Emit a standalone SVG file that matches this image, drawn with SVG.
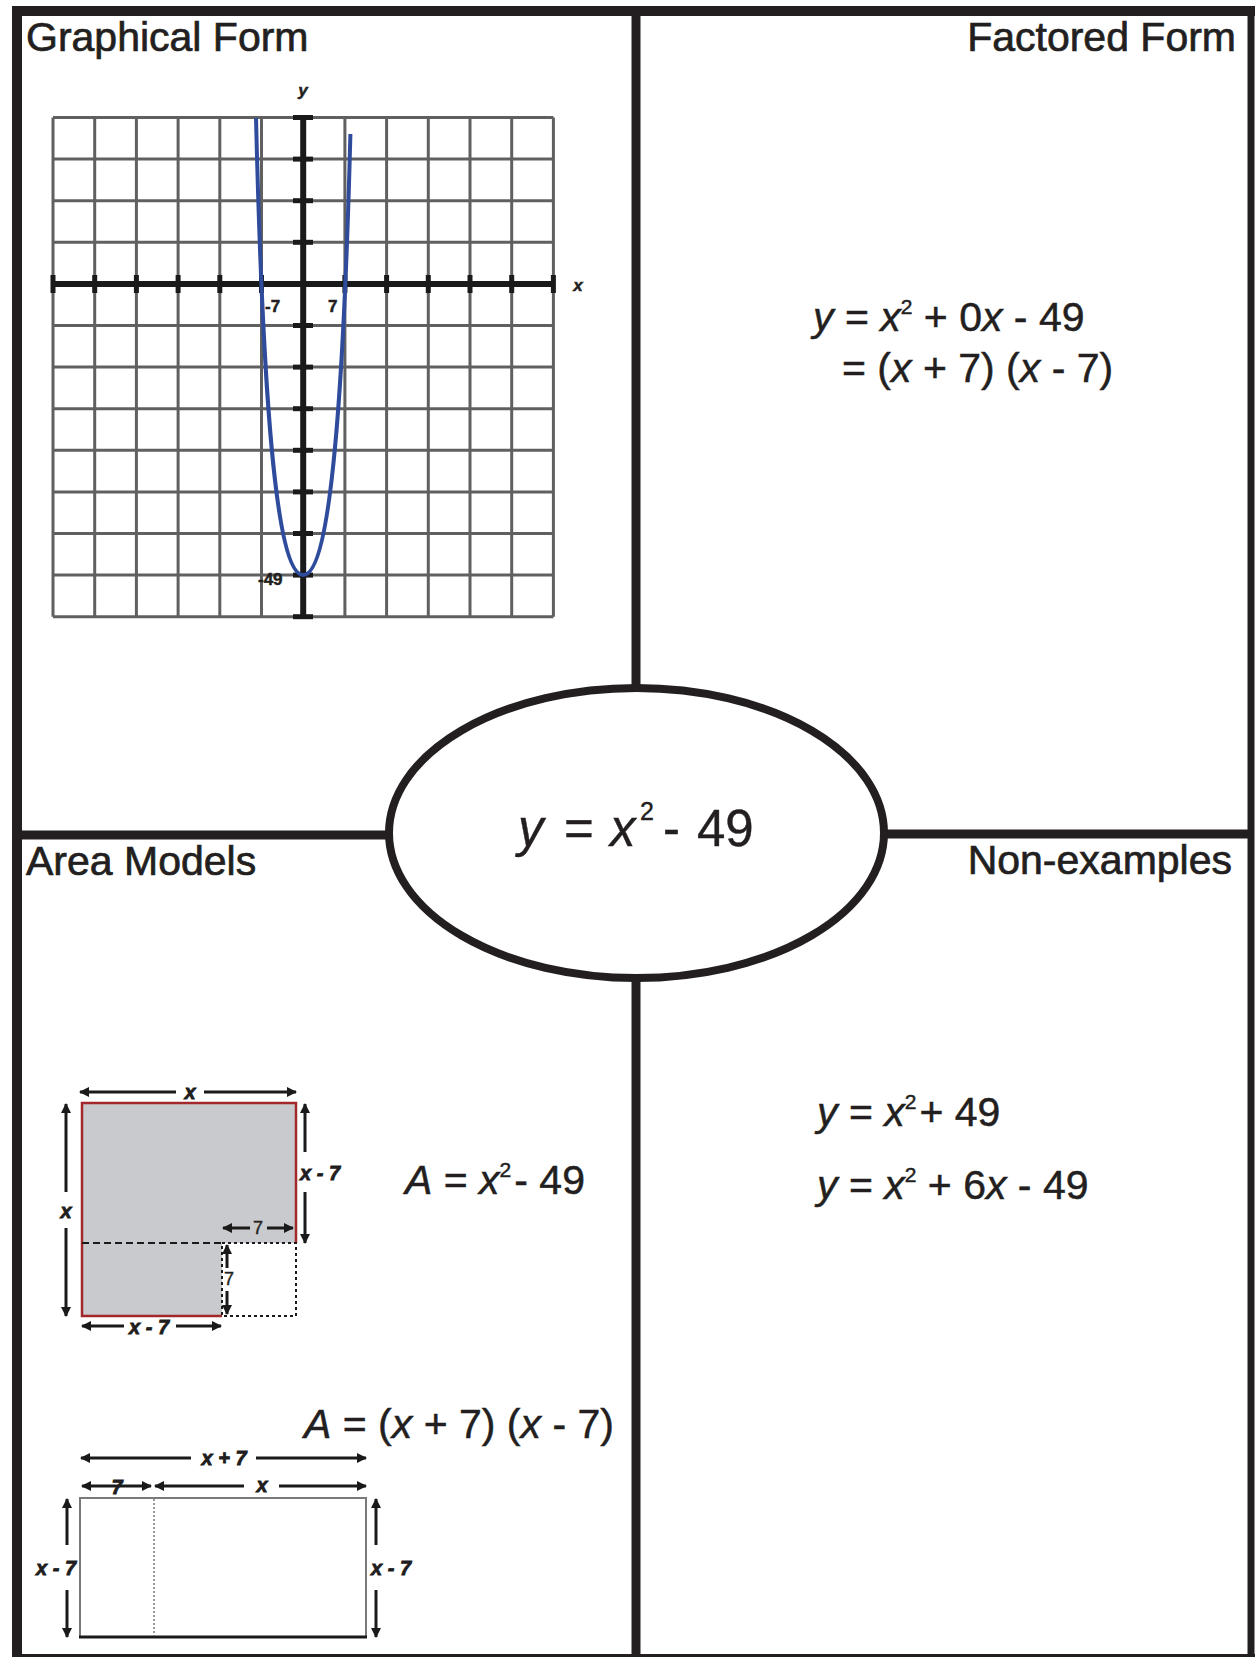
<svg xmlns="http://www.w3.org/2000/svg" width="1255" height="1657" viewBox="0 0 1255 1657">
<style>
text{font-family:"Liberation Sans",Arial,Helvetica,sans-serif;fill:#231f20}
.title{font-size:41px;stroke:#231f20;stroke-width:0.7}
.eq{font-size:41px;stroke:#231f20;stroke-width:0.5}
.it{font-style:italic}
.sup{font-size:21px}
.frame{stroke:#231f20;fill:none}
.grid line{stroke:#606060;stroke-width:3}
.axis{stroke:#1a1a1a;stroke-width:6}
.tick{stroke:#1a1a1a;stroke-width:5}
.glab{font-size:17px;font-weight:bold;stroke:#231f20;stroke-width:0.5}
.dim{stroke:#1a1a1a;stroke-width:3;fill:none;marker-end:url(#ah)}
.dim2{stroke:#1a1a1a;stroke-width:3;fill:none;marker-start:url(#ah);marker-end:url(#ah)}
.dlab{font-size:20px;font-weight:bold;font-style:italic;stroke:#1a1a1a;stroke-width:0.8}
.dnum{font-size:18px;stroke:#231f20;stroke-width:0.4}
</style>
<defs>
<marker id="ah" viewBox="0 0 10 10" refX="9" refY="5" markerUnits="userSpaceOnUse" markerWidth="11" markerHeight="10" orient="auto-start-reverse">
<path d="M0,0 L10,5 L0,10 z" fill="#1a1a1a"/>
</marker>
</defs>
<rect x="0" y="0" width="1255" height="1657" fill="#ffffff"/>

<g id="frame">
<line class="frame" x1="12" y1="11" x2="1255" y2="11" stroke-width="10"/>
<line class="frame" x1="17" y1="6" x2="17" y2="1657" stroke-width="10"/>
<line class="frame" x1="1251" y1="6" x2="1251" y2="1657" stroke-width="7"/>
<line class="frame" x1="12" y1="1655.5" x2="1255" y2="1655.5" stroke-width="3"/>
</g>

<g id="connectors">
<line class="frame" x1="636" y1="11" x2="636" y2="690" stroke-width="9"/>
<line class="frame" x1="636" y1="976" x2="636" y2="1657" stroke-width="9"/>
<line class="frame" x1="17" y1="835" x2="391" y2="835" stroke-width="9"/>
<line class="frame" x1="882" y1="834" x2="1251" y2="834" stroke-width="9"/>
</g>

<g id="center-node">
<ellipse cx="636.5" cy="833" rx="247.5" ry="145" fill="#ffffff" stroke="#231f20" stroke-width="8"/>
<text font-size="51" y="846" stroke="#231f20" stroke-width="0.4"><tspan x="518" class="it">y</tspan><tspan x="564">=</tspan><tspan x="610" class="it">x</tspan><tspan x="640" dy="-26" font-size="25">2</tspan><tspan x="663" dy="26">-</tspan><tspan x="697">49</tspan></text>
</g>

<g id="graphical-form">
<text class="title" x="26" y="51">Graphical Form</text>
<g class="grid">
<line x1="53" y1="117.5" x2="53" y2="616.7"/>
<line x1="94.7" y1="117.5" x2="94.7" y2="616.7"/>
<line x1="136.4" y1="117.5" x2="136.4" y2="616.7"/>
<line x1="178.1" y1="117.5" x2="178.1" y2="616.7"/>
<line x1="219.8" y1="117.5" x2="219.8" y2="616.7"/>
<line x1="261.5" y1="117.5" x2="261.5" y2="616.7"/>
<line x1="344.9" y1="117.5" x2="344.9" y2="616.7"/>
<line x1="386.6" y1="117.5" x2="386.6" y2="616.7"/>
<line x1="428.3" y1="117.5" x2="428.3" y2="616.7"/>
<line x1="470" y1="117.5" x2="470" y2="616.7"/>
<line x1="511.7" y1="117.5" x2="511.7" y2="616.7"/>
<line x1="553.4" y1="117.5" x2="553.4" y2="616.7"/>
<line x1="53" y1="117.5" x2="553.4" y2="117.5"/>
<line x1="53" y1="159.1" x2="553.4" y2="159.1"/>
<line x1="53" y1="200.7" x2="553.4" y2="200.7"/>
<line x1="53" y1="242.3" x2="553.4" y2="242.3"/>
<line x1="53" y1="325.5" x2="553.4" y2="325.5"/>
<line x1="53" y1="367.1" x2="553.4" y2="367.1"/>
<line x1="53" y1="408.7" x2="553.4" y2="408.7"/>
<line x1="53" y1="450.3" x2="553.4" y2="450.3"/>
<line x1="53" y1="491.9" x2="553.4" y2="491.9"/>
<line x1="53" y1="533.5" x2="553.4" y2="533.5"/>
<line x1="53" y1="575.1" x2="553.4" y2="575.1"/>
<line x1="53" y1="616.7" x2="553.4" y2="616.7"/>
</g>
<line class="axis" x1="53" y1="283.9" x2="553.4" y2="283.9"/>
<line class="axis" x1="303.2" y1="117.5" x2="303.2" y2="616.7"/>
<g class="tick">
<line x1="53" y1="275" x2="53" y2="293"/>
<line x1="94.7" y1="275" x2="94.7" y2="293"/>
<line x1="136.4" y1="275" x2="136.4" y2="293"/>
<line x1="178.1" y1="275" x2="178.1" y2="293"/>
<line x1="219.8" y1="275" x2="219.8" y2="293"/>
<line x1="261.5" y1="275" x2="261.5" y2="293"/>
<line x1="344.9" y1="275" x2="344.9" y2="293"/>
<line x1="386.6" y1="275" x2="386.6" y2="293"/>
<line x1="428.3" y1="275" x2="428.3" y2="293"/>
<line x1="470" y1="275" x2="470" y2="293"/>
<line x1="511.7" y1="275" x2="511.7" y2="293"/>
<line x1="553.4" y1="275" x2="553.4" y2="293"/>
<line x1="293" y1="117.5" x2="313" y2="117.5"/>
<line x1="293" y1="159.1" x2="313" y2="159.1"/>
<line x1="293" y1="200.7" x2="313" y2="200.7"/>
<line x1="293" y1="242.3" x2="313" y2="242.3"/>
<line x1="293" y1="325.5" x2="313" y2="325.5"/>
<line x1="293" y1="367.1" x2="313" y2="367.1"/>
<line x1="293" y1="408.7" x2="313" y2="408.7"/>
<line x1="293" y1="450.3" x2="313" y2="450.3"/>
<line x1="293" y1="491.9" x2="313" y2="491.9"/>
<line x1="293" y1="533.5" x2="313" y2="533.5"/>
<line x1="293" y1="575.1" x2="313" y2="575.1"/>
<line x1="293" y1="616.7" x2="313" y2="616.7"/>
</g>
<text class="glab" x="265" y="312">-7</text>
<text class="glab" x="328" y="312">7</text>
<text class="glab" x="258" y="585" fill="#444" stroke="#444">-49</text>
<text class="glab it" x="303" y="96" text-anchor="middle">y</text>
<text class="glab it" x="578" y="291" text-anchor="middle">x</text>
<path d="M256,118 C262.5,385 275,575 303.2,575 C331.4,575 343.9,385 350.4,134" fill="none" stroke="#2f4c9c" stroke-width="4"/>
</g>

<g id="factored-form">
<text class="title" x="1236" y="51" text-anchor="end">Factored Form</text>
<text class="eq" x="813" y="331"><tspan class="it">y</tspan> = <tspan class="it">x</tspan><tspan class="sup" dy="-17">2</tspan><tspan dy="17"> + 0</tspan><tspan class="it">x</tspan> - 49</text>
<text class="eq" x="842" y="382">= (<tspan class="it">x</tspan> + 7) (<tspan class="it">x</tspan> - 7)</text>
</g>

<g id="non-examples">
<text class="title" x="1232" y="874" text-anchor="end">Non-examples</text>
<text class="eq" x="817" y="1126"><tspan class="it">y</tspan> = <tspan class="it">x</tspan><tspan class="sup" dy="-17">2</tspan><tspan dy="17" dx="3">+ 49</tspan></text>
<text class="eq" x="817" y="1199"><tspan class="it">y</tspan> = <tspan class="it">x</tspan><tspan class="sup" dy="-17">2</tspan><tspan dy="17"> + 6</tspan><tspan class="it">x</tspan> - 49</text>
</g>

<g id="area-models">
<text class="title" x="26" y="875">Area Models</text>
<text class="eq" x="405" y="1194"><tspan class="it">A</tspan> = <tspan class="it">x</tspan><tspan class="sup" dy="-17">2</tspan><tspan dy="17" dx="3">- 49</tspan></text>
<text class="eq" x="304" y="1438"><tspan class="it">A</tspan> = (<tspan class="it">x</tspan> + 7) (<tspan class="it">x</tspan> - 7)</text>

<g id="area-model-1">
<path d="M82,1103 H296 V1243 H222 V1316 H82 Z" fill="#c9cacd"/>
<path d="M222,1316 H82 V1103 H296 V1243" fill="none" stroke="#a3282b" stroke-width="2.5"/>
<line x1="82" y1="1243" x2="222" y2="1243" stroke="#1a1a1a" stroke-width="2" stroke-dasharray="7,4"/>
<rect x="222" y="1243" width="74" height="73" fill="none" stroke="#1a1a1a" stroke-width="2" stroke-dasharray="3,3"/>
<line class="dim" x1="176" y1="1092" x2="80" y2="1092"/>
<line class="dim" x1="204" y1="1092" x2="296" y2="1092"/>
<text class="dlab" x="190" y="1099" text-anchor="middle">x</text>
<line class="dim" x1="66" y1="1192" x2="66" y2="1104"/>
<line class="dim" x1="66" y1="1228" x2="66" y2="1316"/>
<text class="dlab" x="66" y="1218" text-anchor="middle">x</text>
<line class="dim" x1="305" y1="1152" x2="305" y2="1104"/>
<line class="dim" x1="305" y1="1192" x2="305" y2="1243"/>
<text class="dlab" x="320" y="1180" text-anchor="middle">x - 7</text>
<line class="dim" x1="250" y1="1228" x2="223" y2="1228"/>
<line class="dim" x1="267" y1="1228" x2="293" y2="1228"/>
<text class="dnum" x="258" y="1234" text-anchor="middle">7</text>
<line class="dim" x1="227" y1="1268" x2="227" y2="1245"/>
<line class="dim" x1="227" y1="1291" x2="227" y2="1314"/>
<text class="dnum" x="229" y="1285" text-anchor="middle">7</text>
<line class="dim" x1="124" y1="1326" x2="82" y2="1326"/>
<line class="dim" x1="176" y1="1326" x2="221" y2="1326"/>
<text class="dlab" x="149" y="1334" text-anchor="middle">x - 7</text>
</g>

<g id="area-model-2">
<rect x="80" y="1498" width="286" height="139" fill="#ffffff" stroke="#7a7a7a" stroke-width="2"/>
<line x1="79" y1="1637" x2="367" y2="1637" stroke="#1a1a1a" stroke-width="3"/>
<line x1="154" y1="1499" x2="154" y2="1636" stroke="#7a7a7a" stroke-width="1.5" stroke-dasharray="2,2"/>
<line class="dim" x1="191" y1="1458" x2="81" y2="1458"/>
<line class="dim" x1="256" y1="1458" x2="366" y2="1458"/>
<text class="dlab" x="224" y="1465" text-anchor="middle">x + 7</text>
<line class="dim2" x1="82" y1="1486" x2="151" y2="1486"/>
<text class="dlab" x="117" y="1494" text-anchor="middle">7</text>
<line class="dim" x1="244" y1="1486" x2="155" y2="1486"/>
<line class="dim" x1="279" y1="1486" x2="366" y2="1486"/>
<text class="dlab" x="262" y="1492" text-anchor="middle">x</text>
<line class="dim" x1="67" y1="1545" x2="67" y2="1499"/>
<line class="dim" x1="67" y1="1590" x2="67" y2="1637"/>
<text class="dlab" x="56" y="1575" text-anchor="middle">x - 7</text>
<line class="dim" x1="376" y1="1545" x2="376" y2="1499"/>
<line class="dim" x1="376" y1="1590" x2="376" y2="1637"/>
<text class="dlab" x="391" y="1575" text-anchor="middle">x - 7</text>
</g>
</g>
</svg>
